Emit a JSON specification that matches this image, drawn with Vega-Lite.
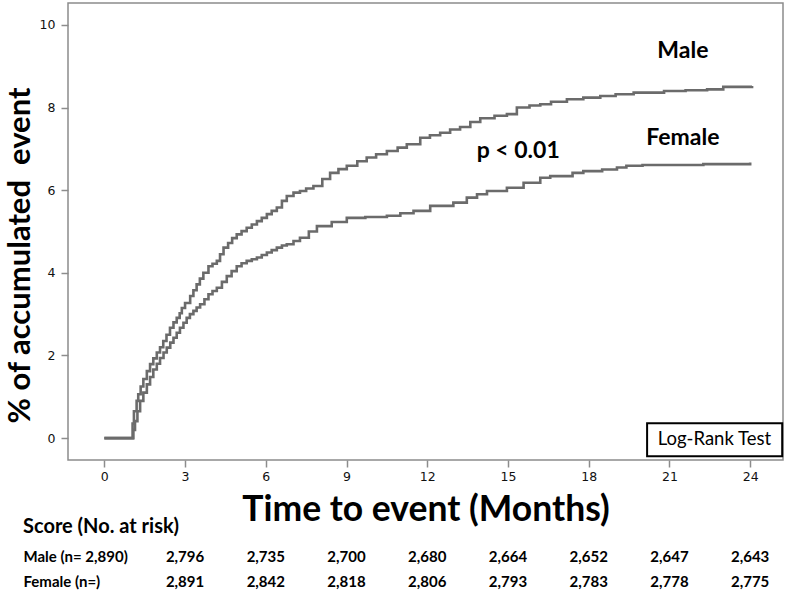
{
  "$schema": "https://vega.github.io/schema/vega-lite/v6.json",
  "padding": {"left": 3, "top": 2, "right": 4, "bottom": 0},
  "background": "white",
  "config": {"font": "Lato", "view": {"stroke": null}},
  "bounds": "flush",
  "spacing": 84,
  "resolve": {"scale": {"x": "independent"}},
  "datasets": {
    "curves": [
      {"sex": "Male", "month": 0, "pct": 0}, {"sex": "Male", "month": 1.0, "pct": 0}, {"sex": "Male", "month": 1.05, "pct": 0.35}, {"sex": "Male", "month": 1.1, "pct": 0.65}, {"sex": "Male", "month": 1.2, "pct": 0.9}, {"sex": "Male", "month": 1.26, "pct": 1.06}, {"sex": "Male", "month": 1.35, "pct": 1.25}, {"sex": "Male", "month": 1.45, "pct": 1.43}, {"sex": "Male", "month": 1.58, "pct": 1.62}, {"sex": "Male", "month": 1.7, "pct": 1.79}, {"sex": "Male", "month": 1.82, "pct": 1.93}, {"sex": "Male", "month": 1.95, "pct": 2.07}, {"sex": "Male", "month": 2.07, "pct": 2.2}, {"sex": "Male", "month": 2.19, "pct": 2.35}, {"sex": "Male", "month": 2.31, "pct": 2.5}, {"sex": "Male", "month": 2.44, "pct": 2.67}, {"sex": "Male", "month": 2.57, "pct": 2.8}, {"sex": "Male", "month": 2.69, "pct": 2.91}, {"sex": "Male", "month": 2.8, "pct": 3.02}, {"sex": "Male", "month": 2.88, "pct": 3.15}, {"sex": "Male", "month": 3.0, "pct": 3.27}, {"sex": "Male", "month": 3.19, "pct": 3.44}, {"sex": "Male", "month": 3.31, "pct": 3.58}, {"sex": "Male", "month": 3.43, "pct": 3.72}, {"sex": "Male", "month": 3.55, "pct": 3.86}, {"sex": "Male", "month": 3.68, "pct": 4.0}, {"sex": "Male", "month": 3.87, "pct": 4.16}, {"sex": "Male", "month": 4.02, "pct": 4.22}, {"sex": "Male", "month": 4.18, "pct": 4.29}, {"sex": "Male", "month": 4.3, "pct": 4.45}, {"sex": "Male", "month": 4.43, "pct": 4.61}, {"sex": "Male", "month": 4.6, "pct": 4.72}, {"sex": "Male", "month": 4.75, "pct": 4.84}, {"sex": "Male", "month": 4.92, "pct": 4.93}, {"sex": "Male", "month": 5.1, "pct": 5.01}, {"sex": "Male", "month": 5.29, "pct": 5.09}, {"sex": "Male", "month": 5.48, "pct": 5.17}, {"sex": "Male", "month": 5.67, "pct": 5.25}, {"sex": "Male", "month": 5.85, "pct": 5.33}, {"sex": "Male", "month": 6.04, "pct": 5.42}, {"sex": "Male", "month": 6.22, "pct": 5.5}, {"sex": "Male", "month": 6.41, "pct": 5.58}, {"sex": "Male", "month": 6.6, "pct": 5.74}, {"sex": "Male", "month": 6.78, "pct": 5.86}, {"sex": "Male", "month": 7.03, "pct": 5.94}, {"sex": "Male", "month": 7.27, "pct": 5.98}, {"sex": "Male", "month": 7.5, "pct": 6.04}, {"sex": "Male", "month": 7.77, "pct": 6.1}, {"sex": "Male", "month": 8.1, "pct": 6.27}, {"sex": "Male", "month": 8.39, "pct": 6.42}, {"sex": "Male", "month": 8.7, "pct": 6.51}, {"sex": "Male", "month": 9.01, "pct": 6.59}, {"sex": "Male", "month": 9.4, "pct": 6.7}, {"sex": "Male", "month": 9.75, "pct": 6.79}, {"sex": "Male", "month": 10.1, "pct": 6.87}, {"sex": "Male", "month": 10.5, "pct": 6.95}, {"sex": "Male", "month": 10.9, "pct": 7.03}, {"sex": "Male", "month": 11.24, "pct": 7.11}, {"sex": "Male", "month": 11.74, "pct": 7.27}, {"sex": "Male", "month": 12.1, "pct": 7.33}, {"sex": "Male", "month": 12.48, "pct": 7.39}, {"sex": "Male", "month": 12.85, "pct": 7.47}, {"sex": "Male", "month": 13.22, "pct": 7.53}, {"sex": "Male", "month": 13.6, "pct": 7.65}, {"sex": "Male", "month": 13.97, "pct": 7.74}, {"sex": "Male", "month": 14.5, "pct": 7.8}, {"sex": "Male", "month": 14.96, "pct": 7.84}, {"sex": "Male", "month": 15.33, "pct": 8.0}, {"sex": "Male", "month": 15.8, "pct": 8.05}, {"sex": "Male", "month": 16.2, "pct": 8.08}, {"sex": "Male", "month": 16.6, "pct": 8.14}, {"sex": "Male", "month": 17.19, "pct": 8.2}, {"sex": "Male", "month": 17.8, "pct": 8.24}, {"sex": "Male", "month": 18.43, "pct": 8.28}, {"sex": "Male", "month": 19.0, "pct": 8.32}, {"sex": "Male", "month": 19.67, "pct": 8.36}, {"sex": "Male", "month": 20.8, "pct": 8.4}, {"sex": "Male", "month": 21.6, "pct": 8.42}, {"sex": "Male", "month": 22.4, "pct": 8.44}, {"sex": "Male", "month": 23.0, "pct": 8.5}, {"sex": "Male", "month": 24.07, "pct": 8.52},
      {"sex": "Female", "month": 0, "pct": 0}, {"sex": "Female", "month": 1.03, "pct": 0}, {"sex": "Female", "month": 1.08, "pct": 0.2}, {"sex": "Female", "month": 1.14, "pct": 0.41}, {"sex": "Female", "month": 1.23, "pct": 0.65}, {"sex": "Female", "month": 1.33, "pct": 0.9}, {"sex": "Female", "month": 1.45, "pct": 1.1}, {"sex": "Female", "month": 1.58, "pct": 1.3}, {"sex": "Female", "month": 1.7, "pct": 1.48}, {"sex": "Female", "month": 1.82, "pct": 1.66}, {"sex": "Female", "month": 1.95, "pct": 1.8}, {"sex": "Female", "month": 2.07, "pct": 1.94}, {"sex": "Female", "month": 2.2, "pct": 2.07}, {"sex": "Female", "month": 2.32, "pct": 2.19}, {"sex": "Female", "month": 2.45, "pct": 2.31}, {"sex": "Female", "month": 2.57, "pct": 2.43}, {"sex": "Female", "month": 2.69, "pct": 2.55}, {"sex": "Female", "month": 2.81, "pct": 2.67}, {"sex": "Female", "month": 2.94, "pct": 2.79}, {"sex": "Female", "month": 3.06, "pct": 2.91}, {"sex": "Female", "month": 3.18, "pct": 3.0}, {"sex": "Female", "month": 3.31, "pct": 3.08}, {"sex": "Female", "month": 3.43, "pct": 3.16}, {"sex": "Female", "month": 3.56, "pct": 3.24}, {"sex": "Female", "month": 3.72, "pct": 3.36}, {"sex": "Female", "month": 3.87, "pct": 3.48}, {"sex": "Female", "month": 4.02, "pct": 3.56}, {"sex": "Female", "month": 4.18, "pct": 3.64}, {"sex": "Female", "month": 4.37, "pct": 3.78}, {"sex": "Female", "month": 4.55, "pct": 3.92}, {"sex": "Female", "month": 4.73, "pct": 4.04}, {"sex": "Female", "month": 4.92, "pct": 4.16}, {"sex": "Female", "month": 5.1, "pct": 4.23}, {"sex": "Female", "month": 5.29, "pct": 4.29}, {"sex": "Female", "month": 5.48, "pct": 4.33}, {"sex": "Female", "month": 5.67, "pct": 4.37}, {"sex": "Female", "month": 5.85, "pct": 4.43}, {"sex": "Female", "month": 6.04, "pct": 4.49}, {"sex": "Female", "month": 6.22, "pct": 4.55}, {"sex": "Female", "month": 6.41, "pct": 4.61}, {"sex": "Female", "month": 6.6, "pct": 4.66}, {"sex": "Female", "month": 6.78, "pct": 4.69}, {"sex": "Female", "month": 7.03, "pct": 4.77}, {"sex": "Female", "month": 7.27, "pct": 4.85}, {"sex": "Female", "month": 7.6, "pct": 5.0}, {"sex": "Female", "month": 7.9, "pct": 5.13}, {"sex": "Female", "month": 8.45, "pct": 5.23}, {"sex": "Female", "month": 9.01, "pct": 5.33}, {"sex": "Female", "month": 9.7, "pct": 5.35}, {"sex": "Female", "month": 10.5, "pct": 5.38}, {"sex": "Female", "month": 11.0, "pct": 5.44}, {"sex": "Female", "month": 11.49, "pct": 5.5}, {"sex": "Female", "month": 12.11, "pct": 5.62}, {"sex": "Female", "month": 12.97, "pct": 5.7}, {"sex": "Female", "month": 13.47, "pct": 5.82}, {"sex": "Female", "month": 13.85, "pct": 5.9}, {"sex": "Female", "month": 14.22, "pct": 5.98}, {"sex": "Female", "month": 14.96, "pct": 6.06}, {"sex": "Female", "month": 15.58, "pct": 6.18}, {"sex": "Female", "month": 16.2, "pct": 6.3}, {"sex": "Female", "month": 16.57, "pct": 6.34}, {"sex": "Female", "month": 17.4, "pct": 6.42}, {"sex": "Female", "month": 17.8, "pct": 6.46}, {"sex": "Female", "month": 18.5, "pct": 6.5}, {"sex": "Female", "month": 19.05, "pct": 6.55}, {"sex": "Female", "month": 19.4, "pct": 6.59}, {"sex": "Female", "month": 20.0, "pct": 6.61}, {"sex": "Female", "month": 22.26, "pct": 6.63}, {"sex": "Female", "month": 24.0, "pct": 6.67}
    ],
    "labels": [
      {"label": "Male", "month": 21.5, "pct": 9.37},
      {"label": "Female", "month": 21.5, "pct": 7.26},
      {"label": "p < 0.01", "month": 15.38, "pct": 6.95}
    ],
    "testbox": [
      {"label": "Log-Rank Test", "x1": 20.17, "x2": 25.19, "y1": -0.44, "y2": 0.36, "month": 22.67, "pct": -0.03}
    ],
    "risk": [
      {"group": "Male (n= 2,890)", "month": 3, "n": 2796}, {"group": "Male (n= 2,890)", "month": 6, "n": 2735}, {"group": "Male (n= 2,890)", "month": 9, "n": 2700}, {"group": "Male (n= 2,890)", "month": 12, "n": 2680}, {"group": "Male (n= 2,890)", "month": 15, "n": 2664}, {"group": "Male (n= 2,890)", "month": 18, "n": 2652}, {"group": "Male (n= 2,890)", "month": 21, "n": 2647}, {"group": "Male (n= 2,890)", "month": 24, "n": 2643},
      {"group": "Female (n=)", "month": 3, "n": 2891}, {"group": "Female (n=)", "month": 6, "n": 2842}, {"group": "Female (n=)", "month": 9, "n": 2818}, {"group": "Female (n=)", "month": 12, "n": 2806}, {"group": "Female (n=)", "month": 15, "n": 2793}, {"group": "Female (n=)", "month": 18, "n": 2783}, {"group": "Female (n=)", "month": 21, "n": 2778}, {"group": "Female (n=)", "month": 24, "n": 2775}
    ]
  },
  "vconcat": [
    {
      "width": 715,
      "height": 457,
      "view": {"stroke": "#8c8c8c", "strokeWidth": 1.5},
      "layer": [
        {
          "data": {"name": "curves"},
          "mark": {"type": "line", "interpolate": "step-after", "color": "#6b6b6b", "strokeWidth": 2.6},
          "encoding": {
            "x": {
              "field": "month", "type": "quantitative",
              "scale": {"domain": [-1.35, 25.22], "nice": false, "zero": false},
              "axis": {
                "values": [0, 3, 6, 9, 12, 15, 18, 21, 24],
                "grid": false, "domain": false,
                "tickColor": "#8c8c8c", "tickSize": 7, "tickWidth": 1.5,
                "labelFont": "DejaVu Sans", "labelFontSize": 12.5, "labelColor": "#111", "labelPadding": 3,
                "title": "Time to event (Months)", "titleFont": "Lato", "titleFontSize": 35.5, "titleFontWeight": "bold", "titleColor": "black", "titlePadding": 10
              }
            },
            "y": {
              "field": "pct", "type": "quantitative",
              "scale": {"domain": [-0.53, 10.53], "nice": false, "zero": false},
              "axis": {
                "values": [0, 2, 4, 6, 8, 10],
                "grid": false, "domain": false,
                "tickColor": "#8c8c8c", "tickSize": 7, "tickWidth": 1.5,
                "labelFont": "DejaVu Sans", "labelFontSize": 12.5, "labelColor": "#111", "labelPadding": 6,
                "title": "% of accumulated\u00a0 event", "titleFont": "Lato", "titleFontSize": 31, "titleFontWeight": "bold", "titleColor": "black", "titlePadding": 3, "titleY": 252
              }
            },
            "detail": {"field": "sex"}
          }
        },
        {
          "data": {"name": "labels"},
          "mark": {"type": "text", "font": "Lato", "fontWeight": "bold", "fontSize": 23, "color": "black", "align": "center", "baseline": "middle"},
          "encoding": {
            "x": {"field": "month", "type": "quantitative"},
            "y": {"field": "pct", "type": "quantitative"},
            "text": {"field": "label"}
          }
        },
        {
          "data": {"name": "testbox"},
          "mark": {"type": "rect", "fill": "white", "stroke": "black", "strokeWidth": 2},
          "encoding": {
            "x": {"field": "x1", "type": "quantitative"},
            "x2": {"field": "x2"},
            "y": {"field": "y1", "type": "quantitative"},
            "y2": {"field": "y2"}
          }
        },
        {
          "data": {"name": "testbox"},
          "mark": {"type": "text", "font": "Lato", "fontSize": 18.5, "color": "black", "align": "center", "baseline": "middle"},
          "encoding": {
            "x": {"field": "month", "type": "quantitative"},
            "y": {"field": "pct", "type": "quantitative"},
            "text": {"field": "label"}
          }
        }
      ]
    },
    {
      "width": 715,
      "height": 50,
      "title": {"text": "Score (No. at risk)", "anchor": "start", "frame": "bounds", "font": "Lato", "fontSize": 20, "fontWeight": "bold", "color": "black", "offset": 7},
      "data": {"name": "risk"},
      "mark": {"type": "text", "font": "Lato", "fontWeight": "bold", "fontSize": 15, "color": "black", "align": "center", "baseline": "middle"},
      "encoding": {
        "x": {"field": "month", "type": "quantitative", "scale": {"domain": [-1.35, 25.22], "nice": false, "zero": false}, "axis": null},
        "y": {
          "field": "group", "type": "nominal", "sort": ["Male (n= 2,890)", "Female (n=)"],
          "scale": {"type": "point", "padding": 0.5},
          "axis": {"title": null, "domain": false, "ticks": false, "tickSize": 0, "labelAlign": "left", "labelPadding": 45, "labelFont": "Lato", "labelFontWeight": "bold", "labelFontSize": 15, "labelColor": "black"}
        },
        "text": {"field": "n", "type": "quantitative", "format": ","}
      }
    }
  ]
}
